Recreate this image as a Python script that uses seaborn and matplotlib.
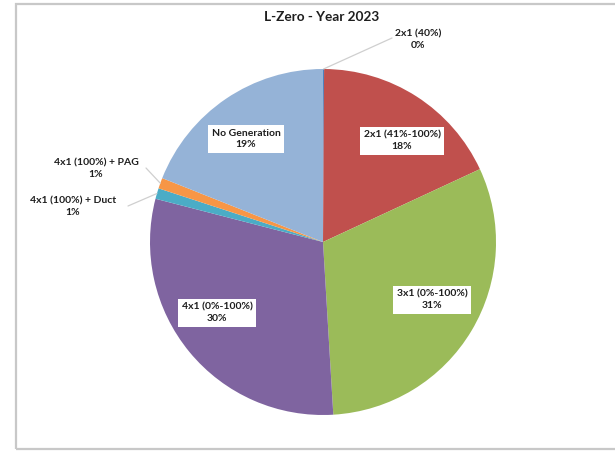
import matplotlib
matplotlib.use("Agg")
import matplotlib.pyplot as plt
import matplotlib.patches as mpatches
import numpy as np
import seaborn as sns

sns.set_theme(style="white")
plt.rcParams["font.family"] = ["Lato", "DejaVu Sans"]

# Generation mode shares, clockwise from 12 o'clock
categories = ["2x1 (40%)", "2x1 (41%-100%)", "3x1 (0%-100%)", "4x1 (0%-100%)",
              "4x1 (100%) + Duct", "4x1 (100%) + PAG", "No Generation"]
shares = [0.1, 18, 31, 30, 1, 1, 19]
colors = ["#4f81bd", "#c0504d", "#9bbb59", "#7f64a0", "#4bacc6", "#f79646", "#95b3d7"]
title = "L-Zero - Year 2023"

W, H = 615, 451
fig = plt.figure(figsize=(W / 100, H / 100), dpi=100)
fig.patch.set_facecolor("white")
ax = fig.add_axes([0, 0, 1, 1])

def py(y):
    # convert a top-down pixel row to the axes' bottom-up coordinate
    return H - y

cx, cy, r = 323, py(242), 173
wedges, _ = ax.pie(shares, colors=colors, startangle=90, counterclock=False,
                   center=(cx, cy), radius=r, frame=True,
                   wedgeprops=dict(edgecolor="none", linewidth=0))
ax.set_xlim(0, W)
ax.set_ylim(0, H)
ax.set_aspect("equal")
ax.axis("off")

# chart frame
frame = mpatches.Rectangle((16, py(449)), 620, 445, fill=False,
                           edgecolor="#c8c8c8", linewidth=1.6, clip_on=False)
ax.add_patch(frame)

labels = [f"{c}\n{v:.0f}%" for c, v in zip(categories, shares)]

# inside labels (white boxes) and outside labels (with leader lines)
inside = {1: (402, 141), 2: (432, 300), 3: (217, 313), 6: (246, 139)}
outside = {0: (418, 40), 4: (73, 207), 5: (96, 169)}
outside_anchor = {0: (392, 38), 4: (128, 206), 5: (146, 168)}

txt_kw = dict(ha="center", va="center", fontsize=7.5, fontweight="bold",
              color="#1e1e1e", linespacing=1.35)

for i, (x, y) in inside.items():
    ax.text(x, py(y), labels[i],
            bbox=dict(boxstyle="square,pad=0.35", facecolor="white",
                      edgecolor="none"), **txt_kw)

for i, (x, y) in outside.items():
    w = wedges[i]
    mid = np.deg2rad((w.theta1 + w.theta2) / 2)
    ex = cx + r * np.cos(mid)
    ey = cy + r * np.sin(mid)
    ax_, ay_ = outside_anchor[i]
    ax.plot([ex, ax_], [ey, py(ay_)], color="#cfcfcf", linewidth=0.9, zorder=1)
    ax.text(x, py(y), labels[i], **txt_kw)

ax.text(322, py(17), title, ha="center", va="center", fontsize=9.8,
        fontweight="bold", color="#1e1e1e")

fig.savefig("out.png", dpi=100, facecolor="white")
